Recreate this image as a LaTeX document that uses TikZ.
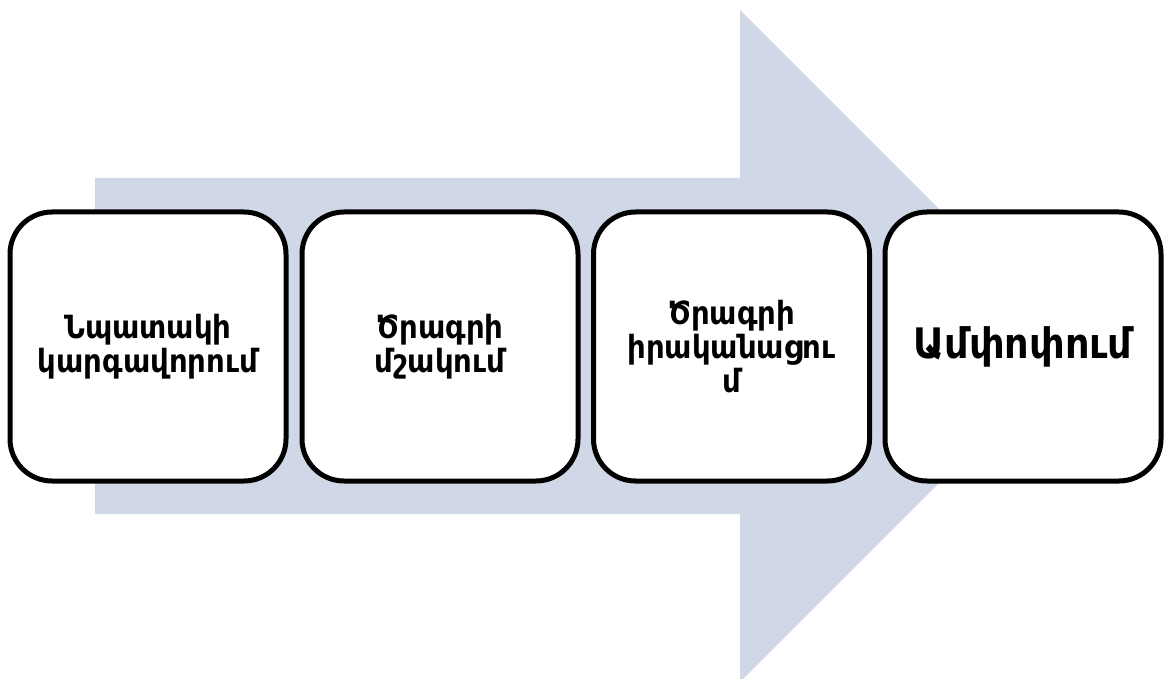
\documentclass[tikz,border=0pt]{standalone}
\usepackage{fontspec}
\setmainfont{DejaVu Sans}
\newfontfamily\boxfont{DejaVu Sans}[FakeStretch=0.91]
\begin{document}
\begin{tikzpicture}[x=1pt,y=-1pt,
  stepbox/.style={draw=black, line width=5pt, fill=white, rounded corners=42pt,
    minimum width=276pt, minimum height=269pt, align=center,
    font=\boxfont\bfseries\fontsize{32}{34}\selectfont},
  bigtext/.style={font=\boxfont\bfseries\fontsize{42}{46}\selectfont}]
\definecolor{arrowfill}{HTML}{D0D8E8}
\useasboundingbox (0,0) rectangle (1168,679);
\fill[arrowfill] (95,178) -- (740,178) -- (740,10) -- (1076,346) -- (740,682) -- (740,514) -- (95,514) -- cycle;
\node[stepbox] (s1) at (148,346.5) {Նպատակի\\կարգավորում};
\node[stepbox] (s2) at (440,346.5) {Ծրագրի\\մշակում};
\node[stepbox] (s3) at (731.5,346.5) {Ծրագրի\\իրականացու\\մ};
\node[stepbox, bigtext] (s4) at (1023,346.5) {Ամփոփում};
\end{tikzpicture}
\end{document}
